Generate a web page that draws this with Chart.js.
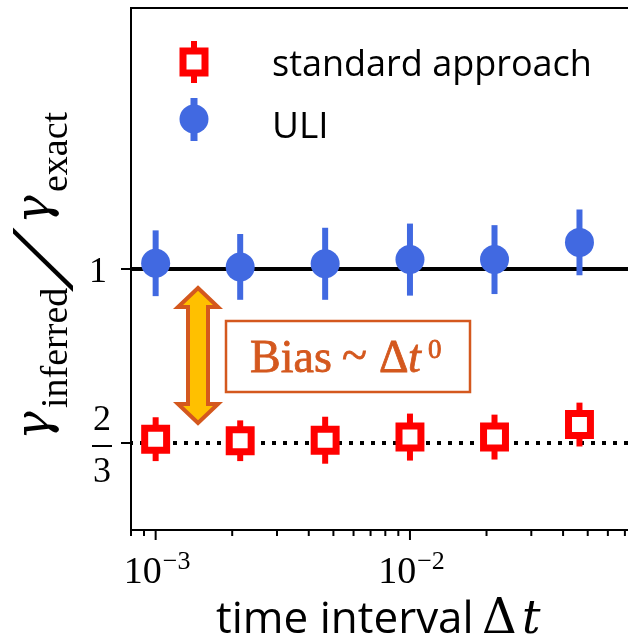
<!DOCTYPE html>
<html>
<head>
<meta charset="utf-8">
<script src="https://cdn.jsdelivr.net/npm/chart.js@4.4.1/dist/chart.umd.min.js"></script>
<style>
  html, body { margin: 0; padding: 0; background: #fff; overflow: hidden; }
  #wrap { width: 628px; height: 641px; }
</style>
</head>
<body>
<div id="wrap"><canvas id="biasChart" width="628" height="641"></canvas></div>
<script>
// time steps and inferred/exact ratios
const timeSteps = [0.001, 0.00215, 0.00464, 0.01, 0.0215, 0.0464];
const standardRatio = [0.674, 0.671, 0.672, 0.678, 0.678, 0.702];
const standardErr = [0.042, 0.039, 0.045, 0.045, 0.043, 0.042];
const uliRatio = [1.011, 1.004, 1.010, 1.018, 1.018, 1.051];
const uliErr = [0.063, 0.063, 0.069, 0.069, 0.066, 0.063];

// axes
const xRange = [8.0e-4, 0.072];
const yRange = [0.5, 1.5];
const xMajorTicks = [0.001, 0.01];
const xMajorLabels = [['10', '\u22123'], ['10', '\u22122']];
const xMinorTicks = [8e-4, 9e-4, 0.002, 0.003, 0.004, 0.005, 0.006, 0.007, 0.008, 0.009,
                     0.02, 0.03, 0.04, 0.05, 0.06, 0.07];
const yTicks = [1, 2 / 3];
const exactLevel = 1;
const naiveLevel = 2 / 3;

const RED = '#ff0000';
const BLUE = '#4169e1';
const ORANGE = '#d4581e';
const GOLD = '#ffc000';
const SERIF = '"Liberation Serif", "DejaVu Serif", serif';
const DSERIF = '"DejaVu Serif", serif';
const SANS = '"Open Sans", "DejaVu Sans", sans-serif';

// vertical error bars, drawn just before each marker dataset
const errorBars = {
    id: 'errorBars',
    beforeDatasetDraw(chart, args) {
        const ds = chart.data.datasets[args.index];
        if (!ds.errors) return;
        const { ctx, scales: { x, y } } = chart;
        ctx.save();
        ctx.strokeStyle = ds.errorColor;
        ctx.lineWidth = 6;
        ds.data.forEach((p, i) => {
            const px = x.getPixelForValue(p.x);
            ctx.beginPath();
            ctx.moveTo(px, y.getPixelForValue(p.y - ds.errors[i]));
            ctx.lineTo(px, y.getPixelForValue(p.y + ds.errors[i]));
            ctx.stroke();
        });
        ctx.restore();
    }
};

function drawRedMarker(ctx, cx, cy) {
    ctx.beginPath();
    ctx.rect(cx - 11, cy - 11, 22, 22);
    ctx.fillStyle = '#fff';
    ctx.fill();
    ctx.lineWidth = 7;
    ctx.strokeStyle = RED;
    ctx.stroke();
}

// spines, ticks, labels, legend and the bias annotation
const decor = {
    id: 'decor',
    afterDraw(chart) {
        const { ctx, chartArea: a, scales: { x, y } } = chart;
        ctx.save();
        ctx.strokeStyle = '#000';
        ctx.fillStyle = '#000';
        ctx.lineWidth = 2;

        const seg = (x1, y1, x2, y2) => {
            ctx.beginPath();
            ctx.moveTo(x1, y1);
            ctx.lineTo(x2, y2);
            ctx.stroke();
        };

        // spines (no right one, the figure is cut there)
        seg(a.left - 1, a.top, a.right, a.top);
        seg(a.left, a.top - 1, a.left, a.bottom + 1);
        seg(a.left - 1, a.bottom, a.right, a.bottom);

        // tick marks
        xMinorTicks.forEach(v => {
            const px = x.getPixelForValue(v);
            if (px >= a.left - 1 && px <= a.right) seg(px, a.bottom, px, a.bottom + 6);
        });
        xMajorTicks.forEach(v => {
            const px = x.getPixelForValue(v);
            seg(px, a.bottom, px, a.bottom + 10);
        });
        yTicks.forEach(v => {
            const py = y.getPixelForValue(v);
            seg(a.left - 10, py, a.left, py);
        });

        // x tick labels 10^-n
        ctx.textBaseline = 'alphabetic';
        xMajorTicks.forEach((v, i) => {
            const px = x.getPixelForValue(v);
            const [base, exp] = xMajorLabels[i];
            ctx.font = '38px ' + SERIF;
            const wb = ctx.measureText(base).width;
            ctx.font = '26px ' + SERIF;
            const we = ctx.measureText(exp).width;
            const left = px - (wb + we) / 2 + 1;
            ctx.textAlign = 'left';
            ctx.font = '38px ' + SERIF;
            ctx.fillText(base, left, a.bottom + 53);
            ctx.font = '26px ' + SERIF;
            ctx.fillText(exp, left + wb + 1, a.bottom + 39);
        });

        // y tick labels: 1 and the fraction 2/3
        ctx.font = '36px ' + SERIF;
        const y1 = y.getPixelForValue(yTicks[0]);
        ctx.textAlign = 'right';
        ctx.fillText('1', 107, y1 + 13);
        const y23 = y.getPixelForValue(yTicks[1]);
        ctx.textAlign = 'center';
        ctx.fillText('2', 102, y23 - 13);
        ctx.fillText('3', 102, y23 + 39);
        seg(92, y23 + 3, 112, y23 + 3);

        // x axis title, "time interval" spread to 256 px like the original
        ctx.textAlign = 'left';
        ctx.font = '44px ' + SANS;
        const plain = 'time interval';
        const wPlain = ctx.measureText(plain).width;
        ctx.letterSpacing = Math.max(0, (256 - wPlain) / plain.length).toFixed(2) + 'px';
        ctx.fillText(plain, 216, 633);
        ctx.letterSpacing = '0px';
        ctx.font = '48px ' + DSERIF;
        ctx.fillText('\u0394', 482, 633);
        ctx.font = 'italic 46px ' + DSERIF;
        ctx.fillText('t', 522, 633);

        // y axis title, rotated
        ctx.save();
        ctx.translate(49, 438);
        ctx.rotate(-Math.PI / 2);
        ctx.textAlign = 'left';
        ctx.font = 'italic 48px ' + DSERIF;
        ctx.fillText('\u03b3', -2, 0);
        ctx.font = '38px ' + SERIF;
        ctx.fillText('inferred', 30, 18);
        ctx.save();
        ctx.translate(168, 24);
        ctx.scale(1.35, 1);
        ctx.font = '92px ' + SERIF;
        ctx.fillText('\u2044', 0, 0);
        ctx.restore();
        ctx.font = 'italic 48px ' + DSERIF;
        ctx.fillText('\u03b3', 214, 0);
        ctx.font = '38px ' + SERIF;
        ctx.fillText('exact', 246, 18);
        ctx.restore();

        // legend
        const std = chart.data.datasets[0];
        const uli = chart.data.datasets[1];
        ctx.lineWidth = 6;
        ctx.strokeStyle = RED;
        seg(194, 41, 194, 83);
        drawRedMarker(ctx, 194, 62);
        ctx.strokeStyle = BLUE;
        seg(194, 98, 194, 141);
        ctx.fillStyle = BLUE;
        ctx.beginPath();
        ctx.arc(194, 119, 14.5, 0, Math.PI * 2);
        ctx.fill();
        ctx.fillStyle = '#000';
        ctx.font = '36px ' + SANS;
        ctx.textAlign = 'left';
        ctx.fillText(std.label, 272, 76);
        ctx.font = '37px ' + SANS;
        ctx.fillText(uli.label, 272, 138);

        // bias annotation: double arrow between the two levels
        const ax = 198;
        const top = y.getPixelForValue(exactLevel) + 19;
        const bot = y.getPixelForValue(naiveLevel) - 20;
        const head = 19, hw = 20, sw = 10;
        ctx.beginPath();
        ctx.moveTo(ax, top);
        ctx.lineTo(ax + hw, top + head);
        ctx.lineTo(ax + sw, top + head);
        ctx.lineTo(ax + sw, bot - head);
        ctx.lineTo(ax + hw, bot - head);
        ctx.lineTo(ax, bot);
        ctx.lineTo(ax - hw, bot - head);
        ctx.lineTo(ax - sw, bot - head);
        ctx.lineTo(ax - sw, top + head);
        ctx.lineTo(ax - hw, top + head);
        ctx.closePath();
        ctx.fillStyle = GOLD;
        ctx.fill();
        ctx.lineWidth = 4;
        ctx.lineJoin = 'miter';
        ctx.strokeStyle = ORANGE;
        ctx.stroke();

        ctx.lineWidth = 2.5;
        ctx.strokeRect(226, 321, 244, 71);

        ctx.fillStyle = ORANGE;
        ctx.lineWidth = 0.8;
        const heavy = (t, px, py) => { ctx.fillText(t, px, py); ctx.strokeText(t, px, py); };
        ctx.font = '46px ' + SERIF;
        heavy('Bias', 250, 372);
        heavy('~', 342, 370);
        heavy('\u0394', 379, 372);
        ctx.font = 'italic 46px ' + SERIF;
        heavy('t', 408, 372);
        ctx.font = '27px ' + SERIF;
        heavy('0', 428, 358);

        ctx.restore();
    }
};

const canvas = document.getElementById('biasChart');
new Chart(canvas.getContext('2d'), {
    type: 'scatter',
    data: {
        datasets: [
            {
                label: 'standard approach',
                data: timeSteps.map((t, i) => ({ x: t, y: standardRatio[i] })),
                errors: standardErr,
                errorColor: RED,
                pointStyle: 'rect',
                pointRadius: 15.5,
                pointBorderWidth: 7,
                pointBorderColor: RED,
                pointBackgroundColor: '#ffffff'
            },
            {
                label: 'ULI',
                data: timeSteps.map((t, i) => ({ x: t, y: uliRatio[i] })),
                errors: uliErr,
                errorColor: BLUE,
                pointStyle: 'circle',
                pointRadius: 14.5,
                pointBorderWidth: 0,
                pointBackgroundColor: BLUE
            },
            {
                label: 'exact',
                data: [{ x: xRange[0], y: exactLevel }, { x: xRange[1], y: exactLevel }],
                showLine: true,
                borderColor: '#000',
                borderWidth: 4,
                pointRadius: 0
            },
            {
                label: 'two thirds',
                data: [{ x: xRange[0], y: naiveLevel }, { x: xRange[1], y: naiveLevel }],
                showLine: true,
                borderColor: '#000',
                borderWidth: 4,
                borderDash: [4, 7],
                borderDashOffset: 2,
                borderCapStyle: 'butt',
                pointRadius: 0
            }
        ]
    },
    options: {
        responsive: false,
        animation: false,
        events: [],
        layout: { autoPadding: false, padding: { left: 131, right: 0, top: 8, bottom: 111 } },
        plugins: {
            legend: { display: false },
            tooltip: { enabled: false }
        },
        scales: {
            x: {
                type: 'logarithmic',
                display: false,
                min: xRange[0],
                max: xRange[1]
            },
            y: {
                type: 'linear',
                display: false,
                min: yRange[0],
                max: yRange[1]
            }
        }
    },
    plugins: [errorBars, decor]
});
</script>
</body>
</html>
